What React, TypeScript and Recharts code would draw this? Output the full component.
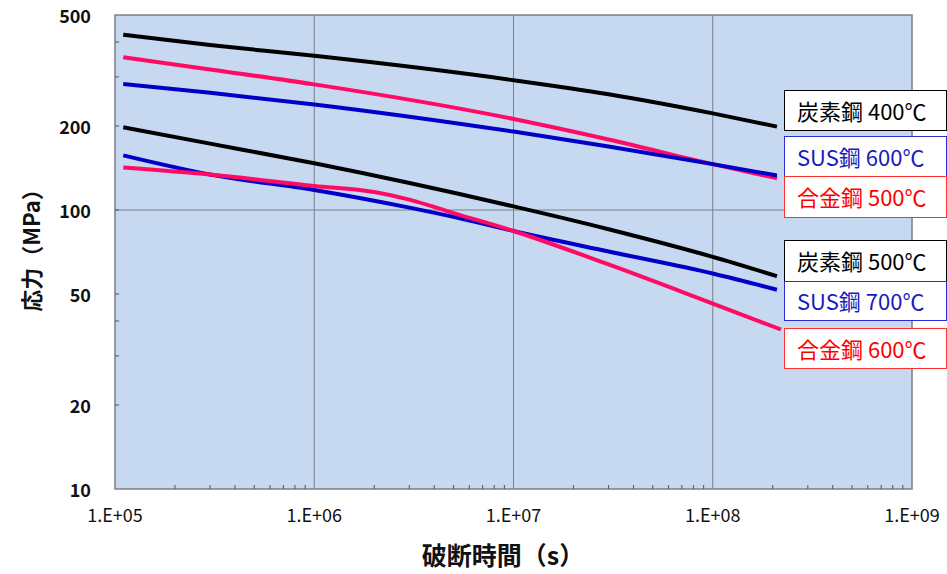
import { LineChart, Line, XAxis, YAxis, CartesianGrid, ReferenceLine, ReferenceArea } from 'recharts';

const FONT = "'Noto Sans CJK JP', 'Noto Sans', sans-serif";

// rupture time (s)
const times = [1.1e5, 3e5, 1e6, 1e7, 3e7, 1e8, 2.1e8];
const timesSus700 = [1.1e5, 3e5, 1e6, 3e6, 5e6, 1e7, 3e7, 1e8, 2.1e8];
const timesAlloy600 = [1.1e5, 3e5, 1e6, 2e6, 3e6, 5e6, 1e7, 3e7, 1e8, 2.2e8];

// stress (MPa)
const carbon400 = [425, 390, 357, 292, 260, 222, 199];
const alloy500 = [353, 319, 282, 212, 179, 146, 130];
const sus600 = [283, 263, 239, 191, 169, 146, 133];
const carbon500 = [198, 173, 147, 103, 85.3, 67.9, 57.9];
const sus700 = [157, 134, 118, 102, 94.5, 84.1, 71, 59.2, 51.8];
const alloy600 = [142, 134, 122, 116, 109, 97.5, 84.1, 63.8, 46.2, 37.3];

const xTicks = [
  1e5, 2e5, 3e5, 4e5, 5e5, 6e5, 7e5, 8e5, 9e5,
  1e6, 2e6, 3e6, 4e6, 5e6, 6e6, 7e6, 8e6, 9e6,
  1e7, 2e7, 3e7, 4e7, 5e7, 6e7, 7e7, 8e7, 9e7,
  1e8, 2e8, 3e8, 4e8, 5e8, 6e8, 7e8, 8e8, 9e8, 1e9,
];
const yTicks = [10, 20, 30, 40, 50, 100, 200, 300, 400, 500];
const yLabels = [10, 20, 50, 100, 200, 500];
const xGrid = [1e6, 1e7, 1e8];
const yGrid = [100];

const labels = [
  { text: '炭素鋼 400℃', color: '#000000', text2: '#000000', top: 90, height: 41 },
  { text: 'SUS鋼 600℃', color: '#2b2bd6', text2: '#1a1ac0', top: 136, height: 41 },
  { text: '合金鋼 500℃', color: '#ff3030', text2: '#ff0000', top: 176, height: 42 },
  { text: '炭素鋼 500℃', color: '#000000', text2: '#000000', top: 240, height: 42 },
  { text: 'SUS鋼 700℃', color: '#2b2bd6', text2: '#1a1ac0', top: 281, height: 40 },
  { text: '合金鋼 600℃', color: '#ff3030', text2: '#ff0000', top: 328, height: 41 },
];

const toRows = (xs: number[], ys: number[]) => xs.map((t, i) => ({ t, v: ys[i] }));

const series = [
  { name: 'carbon400', data: toRows(times, carbon400), color: '#000000' },
  { name: 'alloy500', data: toRows(times, alloy500), color: '#ff0a64' },
  { name: 'sus600', data: toRows(times, sus600), color: '#0000c8' },
  { name: 'carbon500', data: toRows(times, carbon500), color: '#000000' },
  { name: 'sus700', data: toRows(timesSus700, sus700), color: '#0000c8' },
  { name: 'alloy600', data: toRows(timesAlloy600, alloy600), color: '#ff0a64' },
];

const isDecade = (v: number) => {
  const l = Math.log10(v);
  return Math.abs(l - Math.round(l)) < 1e-9;
};

const XTick = (props: any) => {
  const { x, y, payload } = props;
  const v = payload.value;
  const major = isDecade(v);
  const exp = Math.round(Math.log10(v));
  return (
    <g>
      {!major && <line x1={x} x2={x} y1={y} y2={y - 4} stroke="#555" strokeWidth={1} />}
      {major && (
        <text x={x} y={y + 25} textAnchor="middle" dominantBaseline="central" fontSize={18} fontFamily={FONT} fill="#111">
          {`1.E+${String(exp).padStart(2, '0')}`}
        </text>
      )}
    </g>
  );
};

const YTick = (props: any) => {
  const { x, y, payload } = props;
  const v = payload.value;
  const showLabel = yLabels.includes(v);
  return (
    <g>
      {v !== 10 && v !== 500 && <line x1={x} x2={x + 4} y1={y} y2={y} stroke="#555" strokeWidth={1} />}
      {showLabel && (
        <text x={x - 24} y={y} textAnchor="end" dominantBaseline="central" fontSize={18} fontWeight="bold" fontFamily={FONT} fill="#111">
          {v}
        </text>
      )}
    </g>
  );
};

export default function App() {
  return (
    <div style={{ position: 'absolute', left: 0, top: 0, width: 947, height: 574, background: '#fff', fontFamily: FONT }}>
      <LineChart width={947} height={574} margin={{ top: 15, right: 35, left: 0, bottom: 0 }}>
        <CartesianGrid horizontal={false} vertical={false} fill="#c6d9f0" />
        <XAxis
          dataKey="t"
          type="number"
          scale="log"
          domain={[1e5, 1e9]}
          ticks={xTicks}
          allowDataOverflow
          axisLine={false}
          tickLine={false}
          tickSize={0}
          tickMargin={0}
          interval={0}
          height={85}
          tick={<XTick />}
        />
        <YAxis
          type="number"
          scale="log"
          domain={[10, 500]}
          ticks={yTicks}
          allowDataOverflow
          axisLine={false}
          tickLine={false}
          tickSize={0}
          tickMargin={0}
          interval={0}
          width={115}
          tick={<YTick />}
        />
        {xGrid.map((g) => (
          <ReferenceLine key={`x${g}`} x={g} stroke="#7a7f88" strokeWidth={1} />
        ))}
        {yGrid.map((g) => (
          <ReferenceLine key={`y${g}`} y={g} stroke="#7a7f88" strokeWidth={1} />
        ))}
        <ReferenceArea x1={1e5} x2={1e9} y1={10} y2={500} fill="none" stroke="#7a7f88" strokeWidth={1.5} />
        {series.map((s) => (
          <Line
            key={s.name}
            data={s.data}
            dataKey="v"
            type="monotone"
            stroke={s.color}
            strokeWidth={4}
            dot={false}
            activeDot={false}
            isAnimationActive={false}
          />
        ))}
      </LineChart>

      {labels.map((l) => (
        <div
          key={l.text}
          style={{
            position: 'absolute',
            left: 784,
            top: l.top,
            width: 163,
            height: l.height,
            boxSizing: 'border-box',
            border: `1.5px solid ${l.color}`,
            background: '#fff',
            color: l.text2,
            fontSize: 22,
            lineHeight: `${l.height - 3}px`,
            paddingLeft: 12,
            whiteSpace: 'nowrap',
            overflow: 'hidden',
          }}
        >
          {l.text}
        </div>
      ))}

      <div
        style={{
          position: 'absolute',
          left: 30,
          top: 245,
          transform: 'translate(-50%, -50%) rotate(-90deg)',
          fontSize: 22,
          fontWeight: 'bold',
          whiteSpace: 'nowrap',
          color: '#111',
        }}
      >
        応力（MPa）
      </div>
      <div
        style={{
          position: 'absolute',
          left: 503,
          top: 554,
          transform: 'translate(-50%, -50%)',
          fontSize: 25,
          fontWeight: 'bold',
          whiteSpace: 'nowrap',
          color: '#111',
        }}
      >
        破断時間（s）
      </div>
    </div>
  );
}
